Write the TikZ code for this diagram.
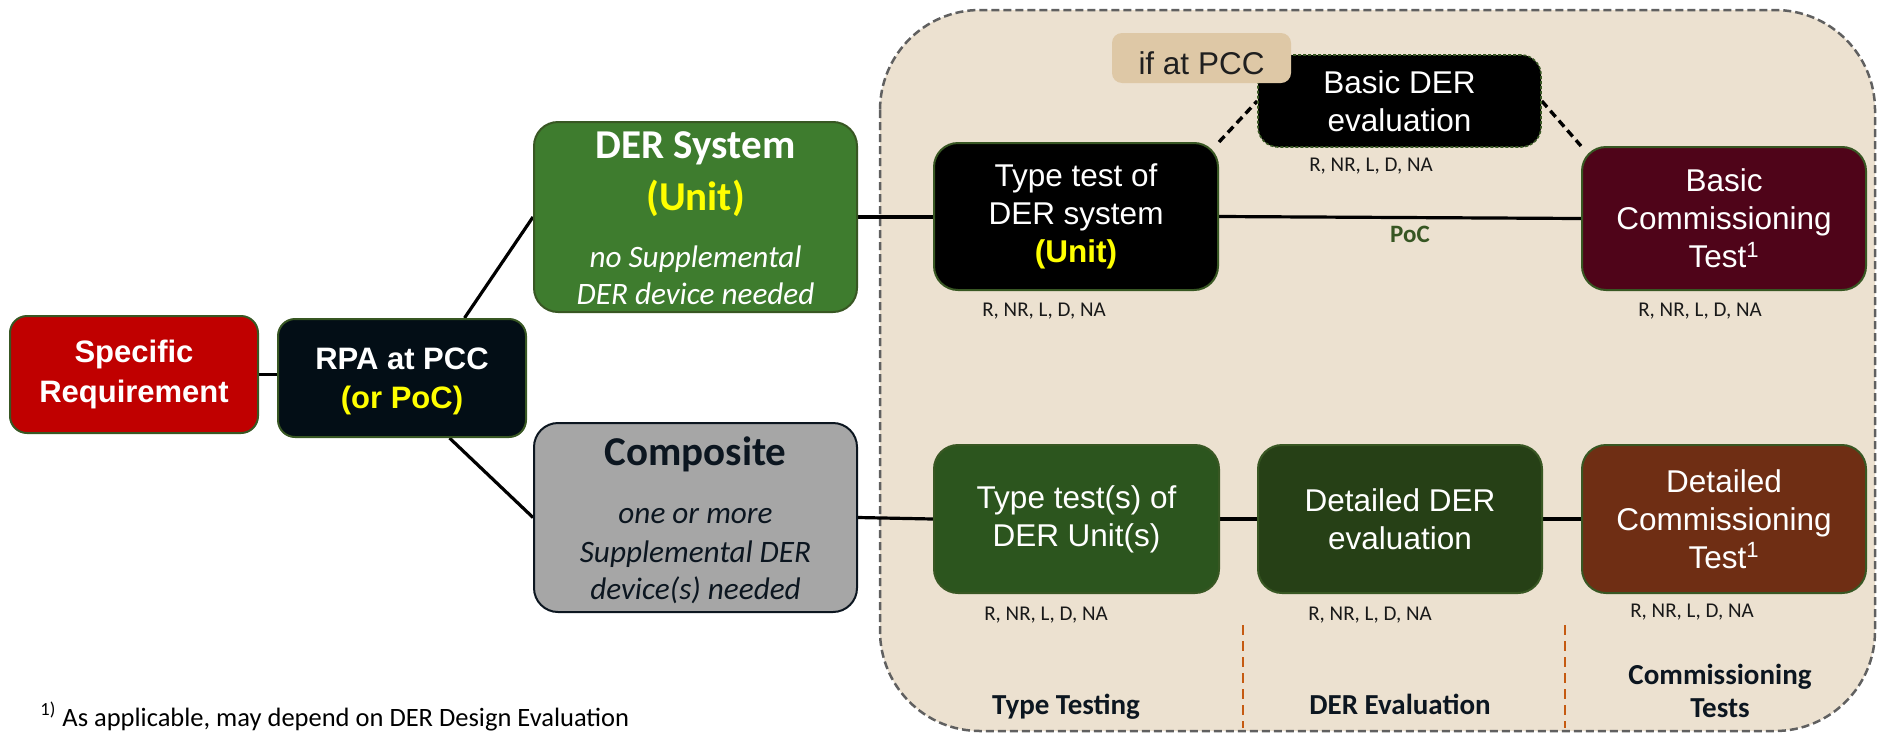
\documentclass[tikz,border=0pt]{standalone}
\usepackage{fontspec}
\setmainfont{Liberation Sans}
\newfontfamily\calib{Carlito}
\usetikzlibrary{calc}

\pgfdeclarelayer{backdrop}
\pgfdeclarelayer{wires}
\pgfsetlayers{backdrop,wires,main}

\definecolor{specred}{RGB}{192,0,0}
\definecolor{rpanavy}{RGB}{3,14,22}
\definecolor{dersgreen}{RGB}{62,124,46}
\definecolor{compgray}{RGB}{166,166,166}
\definecolor{inknavy}{RGB}{12,22,32}
\definecolor{edgegreen}{RGB}{56,87,35}
\definecolor{panelbeige}{RGB}{236,225,208}
\definecolor{panelgray}{RGB}{96,96,96}
\definecolor{tagtan}{RGB}{222,200,166}
\definecolor{basiccomm}{RGB}{79,4,25}
\definecolor{typegreen}{RGB}{44,85,30}
\definecolor{evalgreen}{RGB}{38,64,22}
\definecolor{detcomm}{RGB}{111,46,20}
\definecolor{sepbrown}{RGB}{197,90,17}
\definecolor{pocgreen}{RGB}{55,86,35}
\definecolor{hiyellow}{RGB}{255,255,0}

\tikzset{
  box/.style={draw=edgegreen, line width=1pt, rounded corners=12pt, inner sep=0pt,
    align=center, text=white},
  armain/.style={font=\fontsize{15.75}{19}\selectfont},
  arbold/.style={font=\bfseries\fontsize{15.5}{19.75}\selectfont},
  wire/.style={draw=black, line width=1.6pt},
  optwire/.style={wire, line width=1.7pt, dash pattern=on 4pt off 2.5pt},
  rate/.style={font=\calib\fontsize{10.5}{12}\selectfont, text=black!90, anchor=base, inner sep=0pt},
  phase/.style={font=\calib\bfseries\fontsize{14.5}{16}\selectfont, text=inknavy, anchor=base, inner sep=0pt},
  sep/.style={draw=sepbrown, line width=1.1pt, dash pattern=on 5pt off 3pt},
  heading/.style={font=\calib\bfseries\fontsize{20.5}{24}\selectfont, anchor=base, inner sep=0pt},
  note/.style={font=\calib\itshape\fontsize{15.6}{18}\selectfont, anchor=base, inner sep=0pt},
}

\begin{document}
\begin{tikzpicture}[x=0.5pt,y=-0.5pt]
\useasboundingbox (0,0) rectangle (1877,734);

% panel holding the test stages
\begin{pgfonlayer}{backdrop}
  \draw[fill=panelbeige, draw=panelgray, line width=1.25pt, dash pattern=on 4pt off 2pt,
        rounded corners=50pt] (880,10) rectangle (1875,731);
\end{pgfonlayer}

% left part of the tree
\node[box, fill=specred, minimum width=124pt, minimum height=58.5pt, rounded corners=8.5pt, arbold]
  (spec) at (134,374.5) {Specific\\Requirement};
\node[box, fill=rpanavy, minimum width=124pt, minimum height=59pt, rounded corners=8.5pt, arbold,
  text depth=0pt] (rpa) at (402,378) {RPA at PCC\\\textcolor{hiyellow}{(or PoC)}};

\node[box, fill=dersgreen, minimum width=161.5pt, minimum height=95pt] (ders) at (695.5,217) {};
\node[heading, text=white] (dersA) at (695.5,158) {DER System};
\node[heading, text=hiyellow] (dersB) at (695.5,210) {(Unit)};
\node[note, text=white] (dersC) at (695.5,267) {no Supplemental};
\node[note, text=white] (dersD) at (695.5,304) {DER device needed};

\node[box, draw=inknavy, fill=compgray, minimum width=161.5pt, minimum height=94.5pt] (comp) at (695.5,517.5) {};
\node[heading, text=inknavy] (compA) at (695.5,465) {Composite};
\node[note, text=inknavy] (compB) at (695.5,523) {one or more};
\node[note, text=inknavy] (compC) at (695.5,562) {Supplemental DER};
\node[note, text=inknavy] (compD) at (695.5,599) {device(s) needed};

% upper row: unit path
\node[box, fill=black, minimum width=142pt, minimum height=73.5pt, armain]
  (tt) at (1076,216.5) {Type test of\\DER system\\\textbf{\textcolor{hiyellow}{(Unit)}}};
\node[box, fill=black, line width=0.8pt, dash pattern=on 1.5pt off 1pt, minimum width=141.5pt,
  minimum height=46pt, rounded corners=10pt, armain] (bde) at (1399.5,101) {Basic DER\\evaluation};
\node[box, draw=none, fill=tagtan, text=black!88, minimum width=89.5pt, minimum height=25pt,
  rounded corners=5pt, armain, text height=16.3pt, text depth=0pt] (tag) at (1201.5,58) {if at PCC};
\node[box, fill=basiccomm, minimum width=142pt, minimum height=71.5pt, armain]
  (bct) at (1724,218.5) {Basic\\Commissioning\\Test\textsuperscript{1}};

% lower row: composite path
\node[box, fill=typegreen, minimum width=142.5pt, minimum height=74pt, armain]
  (tts) at (1076.5,519) {Type test(s) of\\DER Unit(s)};
\node[box, fill=evalgreen, minimum width=142pt, minimum height=74pt, armain]
  (dde) at (1400,519) {Detailed DER\\evaluation};
\node[box, fill=detcomm, minimum width=142pt, minimum height=74pt, armain]
  (dct) at (1724,519) {Detailed\\Commissioning\\Test\textsuperscript{1}};

% connectors
\begin{pgfonlayer}{wires}
  \draw[wire] (spec.east) -- (spec.east -| rpa.west);
  \draw[wire] ($(rpa.north)!0.5!(rpa.north east)$) -- (ders.west);
  \draw[wire] ($(rpa.south)!0.38!(rpa.south east)$) -- (comp.west);
  \draw[wire] (ders.east) -- (ders.east -| tt.west);
  \draw[wire] (tt.east) -- (bct.west);
  \draw[wire] (comp.east) -- (tts.west);
  \draw[wire] (tts.east) -- (dde.west);
  \draw[wire] (dde.east) -- (dct.west);
  \draw[optwire] (tt.north east) -- (bde.west);
  \draw[optwire] (bde.east) -- (bct.north west);
\end{pgfonlayer}

\node[font=\calib\bfseries\fontsize{12.5}{14}\selectfont, text=pocgreen, anchor=base, inner sep=0pt]
  (poc) at (1410,242) {PoC};

% result codes
\node[rate] (rateA) at (1044,316) {R, NR, L, D, NA};
\node[rate] (rateB) at (1371,171) {R, NR, L, D, NA};
\node[rate] (rateC) at (1700,316) {R, NR, L, D, NA};
\node[rate] (rateD) at (1046,620) {R, NR, L, D, NA};
\node[rate] (rateE) at (1370,620) {R, NR, L, D, NA};
\node[rate] (rateF) at (1692,617) {R, NR, L, D, NA};

% phase columns
\draw[sep] (1243,625) -- (1243,728);
\draw[sep] (1565,625) -- (1565,728);
\node[phase] (phA) at (1066,714) {Type Testing};
\node[phase] (phB) at (1400,714) {DER Evaluation};
\node[phase] (phC) at (1720,684) {Commissioning};
\node[phase] (phD) at (1720,717) {Tests};

% footnote
\node[anchor=base west, inner sep=0pt, font=\calib\fontsize{13.25}{15}\selectfont]
  (fnote) at (40,726) {\textsuperscript{1)} As applicable, may depend on DER Design Evaluation};
\end{tikzpicture}
\end{document}
